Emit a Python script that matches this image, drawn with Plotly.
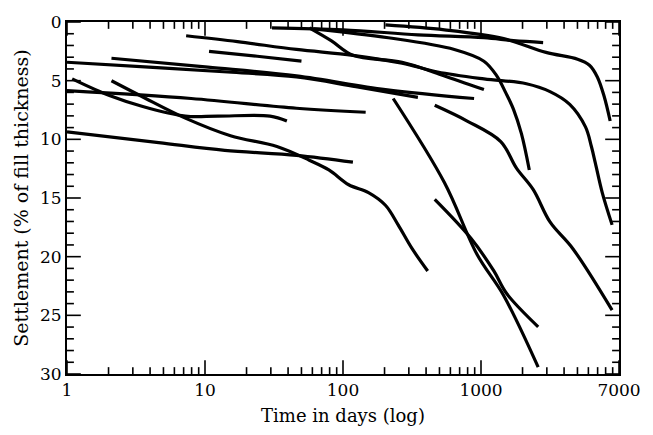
import plotly.graph_objects as go

# ---- data (time in days, settlement in % of fill thickness) ----
c1_days = [30.6, 100, 349, 1050, 1720, 2820]
c1_settle = [0.50, 0.67, 1.09, 1.34, 1.59, 1.75]

c2_days = [203, 544, 1459, 2958, 5012, 6110, 6966, 7810, 8630]
c2_settle = [0.25, 0.67, 1.42, 2.59, 3.17, 3.68, 4.68, 6.35, 8.44]

c3_days = [61, 213, 641, 1050, 1301, 1510, 1720, 1963, 2239]
c3_settle = [0.58, 1.34, 2.34, 3.34, 4.59, 6.02, 7.44, 9.52, 12.61]

c4_days = [7.3, 17.2, 46, 118, 268, 485, 1050, 2133, 3162, 4395, 5715, 6310, 6740, 7560, 8913]
c4_settle = [1.17, 1.67, 2.34, 2.84, 3.51, 4.26, 4.85, 5.26, 5.93, 7.02, 8.94, 10.61, 12.03, 14.54, 17.29]

c5_days = [57, 82, 118, 268, 518, 1050]
c5_settle = [0.50, 1.59, 2.84, 3.43, 4.51, 5.76]

c6_days = [10.7, 23.9, 50]
c6_settle = [2.51, 2.92, 3.34]

c7_days = [2.1, 10.5, 46, 203, 891]
c7_settle = [3.09, 3.84, 4.59, 5.76, 6.52]

c8_days = [1, 3.92, 14.6, 46, 124, 349]
c8_settle = [3.43, 3.84, 4.26, 4.68, 5.51, 6.43]

c9_days = [1, 7.94, 46, 146]
c9_settle = [5.85, 6.52, 7.35, 7.69]

c10_days = [1.09, 2.03, 3.49, 7.2, 12.4, 29.6, 39.2]
c10_settle = [4.85, 6.27, 7.18, 8.02, 8.02, 8.02, 8.44]

c11_days = [2.1, 3.49, 7.2, 15.3, 33.2, 57, 79, 110, 153, 203, 251, 316, 411]
c11_settle = [5.01, 6.35, 8.19, 9.69, 10.61, 11.78, 12.61, 13.87, 14.54, 15.62, 17.29, 19.30, 21.22]

c12_days = [1, 4.62, 13.9, 46, 118]
c12_settle = [9.36, 10.28, 10.94, 11.36, 11.95]

c13_days = [231, 544, 935, 1459, 2596]
c13_settle = [6.52, 13.70, 19.80, 23.31, 29.41]

c14_days = [462, 848, 1239, 1534, 2596]
c14_settle = [15.12, 18.46, 21.22, 23.14, 25.98]

c15_days = [462, 794, 1390, 1807, 2392, 3162, 4616, 8913]
c15_settle = [7.10, 8.44, 10.19, 12.45, 14.29, 17.04, 19.30, 24.56]

# axis ticks
x_major_ticks = [1, 10, 100, 1000, 10000]
x_minor_ticks = [m * d for d in (1, 10, 100, 1000) for m in range(2, 10)]
y_major_ticks = [0, 5, 10, 15, 20, 25, 30]
y_minor_ticks = [v for v in range(0, 31) if v % 5 != 0]
# the printed axis labels its right end "7000"
x_label_alias = {"10k": "7000"}

curves = [
    (c1_days, c1_settle), (c2_days, c2_settle), (c3_days, c3_settle),
    (c4_days, c4_settle), (c5_days, c5_settle), (c6_days, c6_settle),
    (c7_days, c7_settle), (c8_days, c8_settle), (c9_days, c9_settle),
    (c10_days, c10_settle), (c11_days, c11_settle), (c12_days, c12_settle),
    (c13_days, c13_settle), (c14_days, c14_settle), (c15_days, c15_settle),
]

# ---- layout geometry ----
W, H = 653, 435
ML, MR, MT, MB = 67, 27, 16, 60
plot_w = W - ML - MR
plot_h = H - MT - MB
X_RANGE = [0, 4]          # log10 of days
Y_RANGE = [30, 0]         # reversed settlement axis
MAJOR_LEN, MINOR_LEN = 14, 7   # tick lengths in pixels

fig = go.Figure()
for d, s in curves:
    fig.add_trace(go.Scatter(
        x=d, y=s, mode="lines",
        line=dict(color="black", width=3.2, shape="spline", smoothing=1.0),
        showlegend=False, hoverinfo="skip",
    ))

# inward tick marks on all four sides (lengths converted from pixels to axis units)
x_per_px = (X_RANGE[1] - X_RANGE[0]) / plot_w
y_per_px = abs(Y_RANGE[0] - Y_RANGE[1]) / plot_h
y_bottom, y_top = max(Y_RANGE), min(Y_RANGE)
x_left, x_right = 10 ** X_RANGE[0], 10 ** X_RANGE[1]

tx, ty = [], []
for vals, L in ((x_major_ticks, MAJOR_LEN), (x_minor_ticks, MINOR_LEN)):
    dy = L * y_per_px
    for v in vals:
        tx += [v, v, None, v, v, None]
        ty += [y_bottom, y_bottom - dy, None, y_top, y_top + dy, None]
for vals, L in ((y_major_ticks, MAJOR_LEN), (y_minor_ticks, MINOR_LEN)):
    f = 10 ** (L * x_per_px)
    for v in vals:
        tx += [x_left, x_left * f, None, x_right, x_right / f, None]
        ty += [v, v, None, v, v, None]
fig.add_trace(go.Scatter(
    x=tx, y=ty, mode="lines", line=dict(color="black", width=1.6),
    showlegend=False, hoverinfo="skip", cliponaxis=False,
))

serif = "DejaVu Serif"
fig.update_layout(
    width=W, height=H,
    margin=dict(l=ML, r=MR, t=MT, b=MB),
    paper_bgcolor="white", plot_bgcolor="white",
    font=dict(family=serif, color="black", size=17),
    xaxis=dict(
        type="log", range=X_RANGE,
        dtick=1, labelalias=x_label_alias, ticks="",
        showline=True, linecolor="black", linewidth=2, mirror=True,
        showgrid=False, zeroline=False,
        tickfont=dict(family=serif, size=17, color="black"),
        title=dict(text="Time in days (log)", font=dict(family=serif, size=18, color="black"), standoff=10),
    ),
    yaxis=dict(
        range=Y_RANGE, dtick=5, ticks="",
        showline=True, linecolor="black", linewidth=2, mirror=True,
        showgrid=False, zeroline=False,
        tickfont=dict(family=serif, size=17, color="black"),
        title=dict(text="Settlement (% of fill thickness)", font=dict(family=serif, size=19, color="black"), standoff=6),
    ),
)

fig.write_html("out.html")
